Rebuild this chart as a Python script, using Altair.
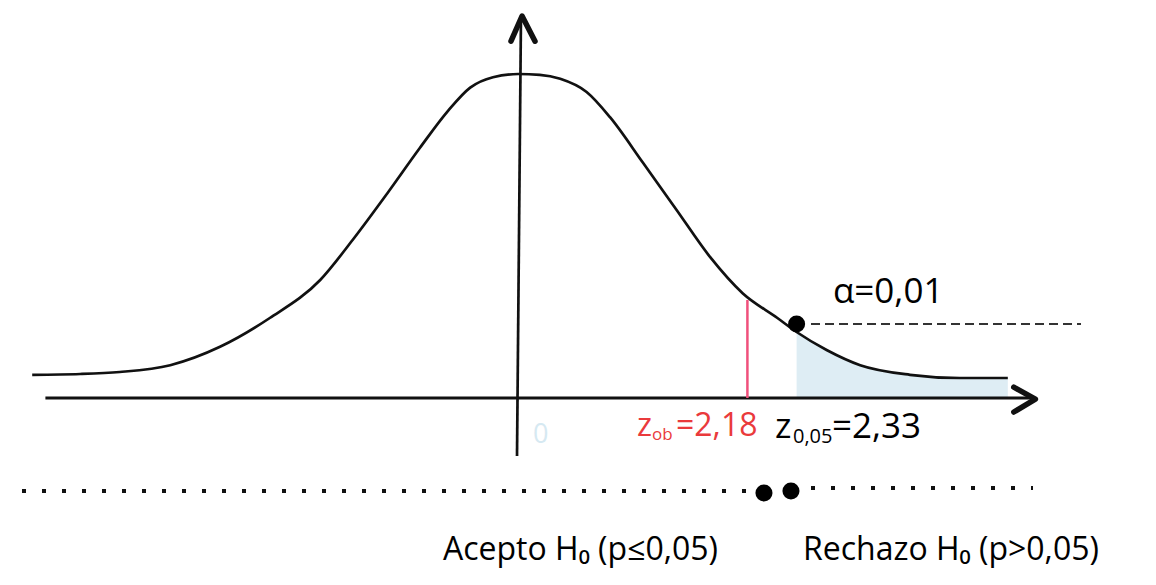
import altair as alt
import pandas as pd

# ---- data (x in z-units, y in density units) ----
curve_z = [-4.04, -3.64, -3.31, -2.89, -2.475, -2.06, -1.64, -1.37, -1.08, -0.81, -0.58, -0.39,
           -0.20, 0.01, 0.19, 0.36, 0.58, 0.775, 1.05, 1.33, 1.61, 1.88, 2.17, 2.33, 2.58,
           2.86, 3.275, 3.69, 4.09]
curve_f = [0.029, 0.030, 0.0325, 0.041, 0.064, 0.100, 0.1475, 0.1975, 0.256, 0.3125, 0.358, 0.388,
           0.401, 0.405, 0.404, 0.399, 0.3825, 0.351, 0.294, 0.235, 0.176, 0.131, 0.100, 0.0825, 0.06,
           0.041, 0.029, 0.025, 0.025]

z_crit_drawn = 2.33          # start of rejection region as drawn
z_obs_drawn = 1.92           # observed statistic line as drawn
obs_line_top = 0.1225
alpha_dot = (2.33, 0.0925)
alpha_dash = [2.45, 4.70]

h_axis_z = [-3.93, 4.30]
v_axis_z = [0.0, 0.033]
v_axis_f = [-0.0725, 0.476]
h_arrow_z = [4.14, 4.32, 4.14]
h_arrow_f = [0.0135, -0.0015, -0.0175]
v_arrow_z = [-0.05, 0.042, 0.15]
v_arrow_f = [0.446, 0.4775, 0.446]

accept_dots = [-4.125, 1.925]
reject_dots = [2.45, 4.30]
accept_row_f = -0.11625
reject_row_f = -0.1125
decision_points_z = [2.058, 2.283]
decision_points_f = [-0.11875, -0.11625]

alpha_label = "α=0,01"
zob_parts = ["z", "ob", "=2,18"]
zcrit_parts = ["z", "0,05", "=2,33"]
zero_label = "0"
accept_label = "Acepto H₀ (p≤0,05)"
reject_label = "Rechazo H₀ (p>0,05)"

# ---- scales: plot area covers the page ----
XS = alt.Scale(domain=[-4.2417, 5.2583], nice=False, zero=False)
YS = alt.Scale(domain=[-0.21875, 0.4875], nice=False, zero=False)
FONT = "Open Sans"


def X(field="z"):
    return alt.X(f"{field}:Q", scale=XS, axis=None)


def Y(field="f"):
    return alt.Y(f"{field}:Q", scale=YS, axis=None)


curve_df = pd.DataFrame({"z": curve_z, "f": curve_f})
shade_df = curve_df[curve_df["z"] >= z_crit_drawn].copy()
shade_df["base"] = 0.0

shade = alt.Chart(shade_df).mark_area(color="#deedf4", interpolate="monotone").encode(
    x=X(), y=Y(), y2="base:Q")

curve = alt.Chart(curve_df).mark_line(color="#111111", strokeWidth=2.7, interpolate="monotone").encode(
    x=X(), y=Y())

h_axis = alt.Chart(pd.DataFrame({"z": [h_axis_z[0]], "z2": [h_axis_z[1]], "f": [0.0]})).mark_rule(
    color="#111111", strokeWidth=3).encode(x=X(), x2="z2:Q", y=Y())

v_axis = alt.Chart(pd.DataFrame({"z": [v_axis_z[0]], "z2": [v_axis_z[1]],
                                 "f": [v_axis_f[0]], "f2": [v_axis_f[1]]})).mark_rule(
    color="#111111", strokeWidth=2.7).encode(x=X(), x2="z2:Q", y=Y(), y2="f2:Q")

arrows_df = pd.DataFrame({
    "z": h_arrow_z + v_arrow_z,
    "f": h_arrow_f + v_arrow_f,
    "g": ["h"] * 3 + ["v"] * 3,
    "o": [0, 1, 2, 0, 1, 2],
})
arrows = alt.Chart(arrows_df).mark_line(color="#111111", strokeWidth=5.5, strokeCap="round",
                                        strokeJoin="round").encode(
    x=X(), y=Y(), detail="g:N", order="o:Q")

obs_line = alt.Chart(pd.DataFrame({"z": [z_obs_drawn], "f": [0.0], "f2": [obs_line_top]})).mark_rule(
    color="#f0507c", strokeWidth=2.5).encode(x=X(), y=Y(), y2="f2:Q")

dash = alt.Chart(pd.DataFrame({"z": [alpha_dash[0]], "z2": [alpha_dash[1]], "f": [alpha_dot[1]]})).mark_rule(
    color="#333333", strokeWidth=2.2, strokeDash=[9, 5]).encode(x=X(), x2="z2:Q", y=Y())

dot = alt.Chart(pd.DataFrame({"z": [alpha_dot[0]], "f": [alpha_dot[1]]})).mark_point(
    filled=True, color="#000000", size=290, opacity=1).encode(x=X(), y=Y())

dotted_df = pd.DataFrame({"z": [accept_dots[0], reject_dots[0]], "z2": [accept_dots[1], reject_dots[1]],
                          "f": [accept_row_f, reject_row_f]})
dotted = alt.Chart(dotted_df).mark_rule(color="#111111", strokeWidth=4, strokeDash=[4, 16]).encode(
    x=X(), x2="z2:Q", y=Y())

big_dots = alt.Chart(pd.DataFrame({"z": decision_points_z, "f": decision_points_f})).mark_point(
    filled=True, color="#000000", size=290, opacity=1).encode(x=X(), y=Y())


def text(labels, zs, fs, size, color):
    df = pd.DataFrame({"z": zs, "f": fs, "label": labels})
    return alt.Chart(df).mark_text(align="left", baseline="alphabetic", font=FONT,
                                   fontSize=size, color=color).encode(x=X(), y=Y(), text="label:N")


t_alpha = text([alpha_label], [2.633], [0.11875], 35, "#000000")
t_zob_main = text([zob_parts[0], zob_parts[2]], [1.0, 1.325], [-0.0475, -0.0475], 32, "#ea3a3c")
t_zob_sub = text([zob_parts[1]], [1.125], [-0.0525], 17, "#ea3a3c")
t_zc_main = text([zcrit_parts[0], zcrit_parts[2]], [2.15, 2.625], [-0.05, -0.05], 35, "#000000")
t_zc_sub = text([zcrit_parts[1]], [2.30], [-0.0563], 20, "#000000")
t_zero = text([zero_label], [0.133], [-0.0563], 27, "#d6e9f2")
t_bottom = text([accept_label, reject_label], [-0.617, 2.383], [-0.2025, -0.2025], 32, "#000000")

chart = alt.layer(
    shade, curve, h_axis, v_axis, arrows, obs_line, dash, dot, dotted, big_dots,
    t_alpha, t_zob_main, t_zob_sub, t_zc_main, t_zc_sub, t_zero, t_bottom,
).properties(width=1140, height=565, padding=0, background="white").configure_view(strokeWidth=0)

chart.save("out.html", embed_options={"renderer": "svg", "actions": False})
